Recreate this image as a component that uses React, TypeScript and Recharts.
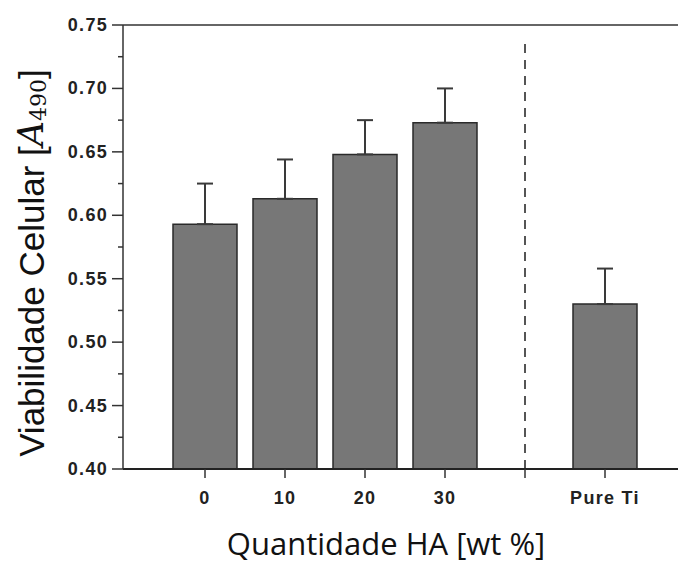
import React from 'react';
import {
  BarChart,
  Bar,
  XAxis,
  YAxis,
  ErrorBar,
  ReferenceLine,
  Label,
} from 'recharts';

// categories on the x axis (the blank one holds the dashed separator)
const categories: string[] = ['0', '10', '20', '30', ' ', 'Pure Ti'];
const viability: (number | null)[] = [0.593, 0.613, 0.648, 0.673, null, 0.53];
const upperErr: (number | null)[] = [0.032, 0.031, 0.027, 0.027, null, 0.028];
const yTicks: number[] = [
  0.4, 0.425, 0.45, 0.475, 0.5, 0.525, 0.55, 0.575, 0.6, 0.625, 0.65, 0.675,
  0.7, 0.725, 0.75,
];
const majorTicks: number[] = [0.4, 0.45, 0.5, 0.55, 0.6, 0.65, 0.7, 0.75];

const data = categories.map((c, i) => ({
  name: c,
  value: viability[i],
  err: upperErr[i] == null ? null : [0, upperErr[i]],
}));

const tickFont = '"Liberation Sans", Arial, sans-serif';

const YTick = (props: any) => {
  const { x, y, payload } = props;
  const isMajor = majorTicks.some((m) => Math.abs(m - payload.value) < 1e-6);
  return (
    <g>
      <line
        x1={isMajor ? x + 4 : x + 10}
        x2={x + 15}
        y1={y}
        y2={y}
        stroke="#333"
        strokeWidth={1.5}
      />
      {isMajor && (
        <text
          x={x}
          y={y}
          textAnchor="end"
          dominantBaseline="central"
          fontFamily={tickFont}
          fontWeight="bold"
          fontSize={18}
          letterSpacing={1.3}
          fill="#222"
        >
          {payload.value.toFixed(2)}
        </text>
      )}
    </g>
  );
};

const YTitle = () => {
  const cx = 31;
  const cy = 263;
  return (
    <text
      x={cx}
      y={cy}
      transform={`rotate(-90, ${cx}, ${cy})`}
      textAnchor="middle"
      dominantBaseline="central"
      fontFamily={tickFont}
      fontSize={35}
      fill="#111"
    >
      Viabilidade Celular [
      <tspan fontFamily='"DejaVu Serif", serif' fontStyle="italic">
        A
      </tspan>
      <tspan fontFamily='"DejaVu Serif", serif' fontSize={22} dy={7}>
        490
      </tspan>
      <tspan dy={-7}>]</tspan>
    </text>
  );
};

const XTitle = () => (
  <text
    x={386}
    y={555}
    textAnchor="middle"
    fontFamily='"Open Sans", "Noto Sans", sans-serif'
    fontSize={31}
    fill="#111"
  >
    Quantidade HA [wt %]
  </text>
);

export default function App() {
  return (
    <div style={{ position: 'absolute', left: 0, top: 0, background: '#fff' }}>
      <BarChart
        width={678}
        height={563}
        data={data}
        margin={{ top: 25, right: 0, left: 0, bottom: 0 }}
      >
        <XAxis
          dataKey="name"
          height={94}
          padding={{ left: 42, right: 33 }}
          tickSize={9}
          tickMargin={13}
          axisLine={{ stroke: '#222', strokeWidth: 2 }}
          tickLine={{ stroke: '#333', strokeWidth: 1.5 }}
          tick={{
            fill: '#222',
            fontFamily: tickFont,
            fontWeight: 'bold',
            fontSize: 18,
            letterSpacing: 1.3,
          }}
        >
          <Label content={<XTitle />} />
        </XAxis>
        <YAxis
          type="number"
          domain={[0.4, 0.75]}
          ticks={yTicks}
          interval={0}
          width={123}
          tickSize={11}
          tickMargin={4}
          tickLine={false}
          axisLine={{ stroke: '#333', strokeWidth: 1.5 }}
          tick={<YTick />}
          allowDataOverflow
        >
          <Label content={<YTitle />} />
        </YAxis>
        <ReferenceLine y={0.75} stroke="#333" strokeWidth={1.5} />
        <ReferenceLine
          segment={[
            { x: ' ', y: 0.4 },
            { x: ' ', y: 0.738 },
          ]}
          stroke="#555"
          strokeWidth={2}
          strokeDasharray="9 7"
        />
        <Bar
          dataKey="value"
          barSize={64}
          fill="#777777"
          stroke="#2a2a2a"
          strokeWidth={1.5}
          isAnimationActive={false}
        >
          <ErrorBar
            dataKey="err"
            direction="y"
            width={8}
            stroke="#3a3a3a"
            strokeWidth={2}
          />
        </Bar>
      </BarChart>
    </div>
  );
}
